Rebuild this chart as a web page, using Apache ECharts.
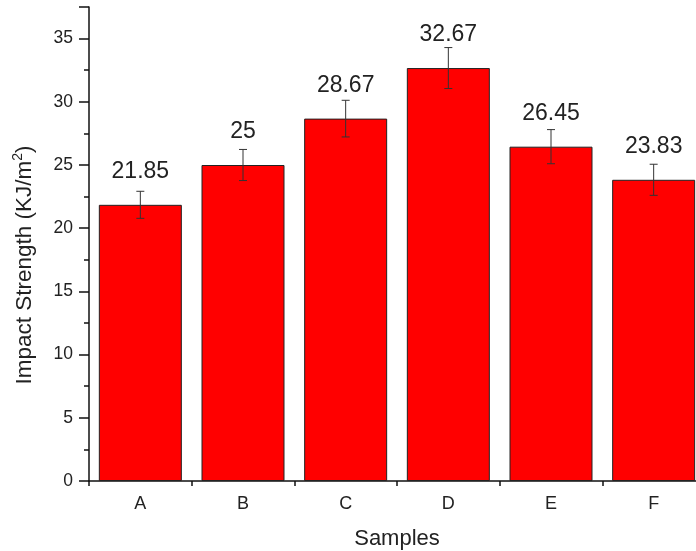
<!DOCTYPE html>
<html>
<head>
<meta charset="utf-8">
<script src="https://cdn.jsdelivr.net/npm/echarts@6/dist/echarts.min.js"></script>
<style>html,body{margin:0;padding:0;background:#fff}#c{width:696px;height:551px}</style>
</head>
<body>
<div id="c"></div>
<script>
var categories = ['A', 'B', 'C', 'D', 'E', 'F'];
var values = [21.85, 25, 28.67, 32.67, 26.45, 23.83];
var labels = ['21.85', '25', '28.67', '32.67', '26.45', '23.83'];
var errors = [1.07, 1.23, 1.45, 1.62, 1.35, 1.23];

var FONT = 'Liberation Sans, Arial, sans-serif';
var chart = echarts.init(document.getElementById('c'), null, {renderer: 'canvas'});

var errData = values.map(function (v, i) { return [i, v, errors[i]]; });

chart.setOption({
  animation: false,
  backgroundColor: '#fff',
  grid: {left: 89, right: -9, top: 7, bottom: 70, containLabel: false, outerBoundsMode: 'none'},
  xAxis: [{
    type: 'category',
    data: categories,
    name: 'Samples',
    nameLocation: 'middle',
    nameGap: 47,
    nameTextStyle: {fontFamily: FONT, fontSize: 22, color: '#222'},
    axisLine: {lineStyle: {color: '#111', width: 1.5}},
    axisTick: {alignWithLabel: true, length: 8, lineStyle: {color: '#111', width: 1.5}},
    axisLabel: {fontFamily: FONT, fontSize: 18, color: '#222', margin: 14}
  }, {
    type: 'value',
    min: 0, max: 6, interval: 1,
    position: 'bottom',
    axisLine: {show: false},
    axisLabel: {show: false},
    splitLine: {show: false},
    axisTick: {show: true, length: 5, lineStyle: {color: '#111', width: 1.5}}
  }],
  yAxis: {
    type: 'value',
    min: 0, max: 37.5, interval: 5,
    name: '{a|Impact Strength (KJ/m}{s|2}{a|)}',
    nameLocation: 'middle',
    nameGap: 50,
    nameTextStyle: {
      padding: [0, 42, 0, 0],
      rich: {
        a: {fontFamily: FONT, fontSize: 22.5, color: '#222'},
        s: {fontFamily: FONT, fontSize: 14, color: '#222', verticalAlign: 'top', padding: [0, 0, 14, 0]}
      }
    },
    axisLine: {show: true, lineStyle: {color: '#111', width: 1.5}},
    axisTick: {show: true, length: 10, lineStyle: {color: '#111', width: 1.5}},
    minorTick: {show: true, splitNumber: 2, length: 5, lineStyle: {color: '#111', width: 1.5}},
    splitLine: {show: false},
    axisLabel: {
      fontFamily: FONT, fontSize: 17.5, color: '#222', margin: 16,
      formatter: function (v) { return v === 37.5 ? '' : String(v); }
    }
  },
  series: [{
    type: 'bar',
    data: values,
    barWidth: 83,
    itemStyle: {color: '#ff0000', borderColor: '#222', borderWidth: 1}
  }, {
    type: 'custom',
    data: errData,
    z: 10,
    renderItem: function (params, api) {
      var i = api.value(0), v = api.value(1), e = api.value(2);
      var mid = api.coord([i, v]);
      var top = api.coord([i, v + e]);
      var bot = api.coord([i, v - e]);
      var hw = 4;
      var st = {stroke: '#333', lineWidth: 1};
      return {
        type: 'group',
        children: [
          {type: 'line', shape: {x1: top[0], y1: top[1], x2: bot[0], y2: bot[1]}, style: st},
          {type: 'line', shape: {x1: top[0] - hw, y1: top[1], x2: top[0] + hw, y2: top[1]}, style: st},
          {type: 'line', shape: {x1: bot[0] - hw, y1: bot[1], x2: bot[0] + hw, y2: bot[1]}, style: st},
          {type: 'text', x: mid[0], y: mid[1] - 33, style: {
            text: labels[params.dataIndex], fill: '#222', font: '23px ' + FONT,
            textAlign: 'center', textVerticalAlign: 'middle'
          }}
        ]
      };
    }
  }]
});
</script>
</body>
</html>
